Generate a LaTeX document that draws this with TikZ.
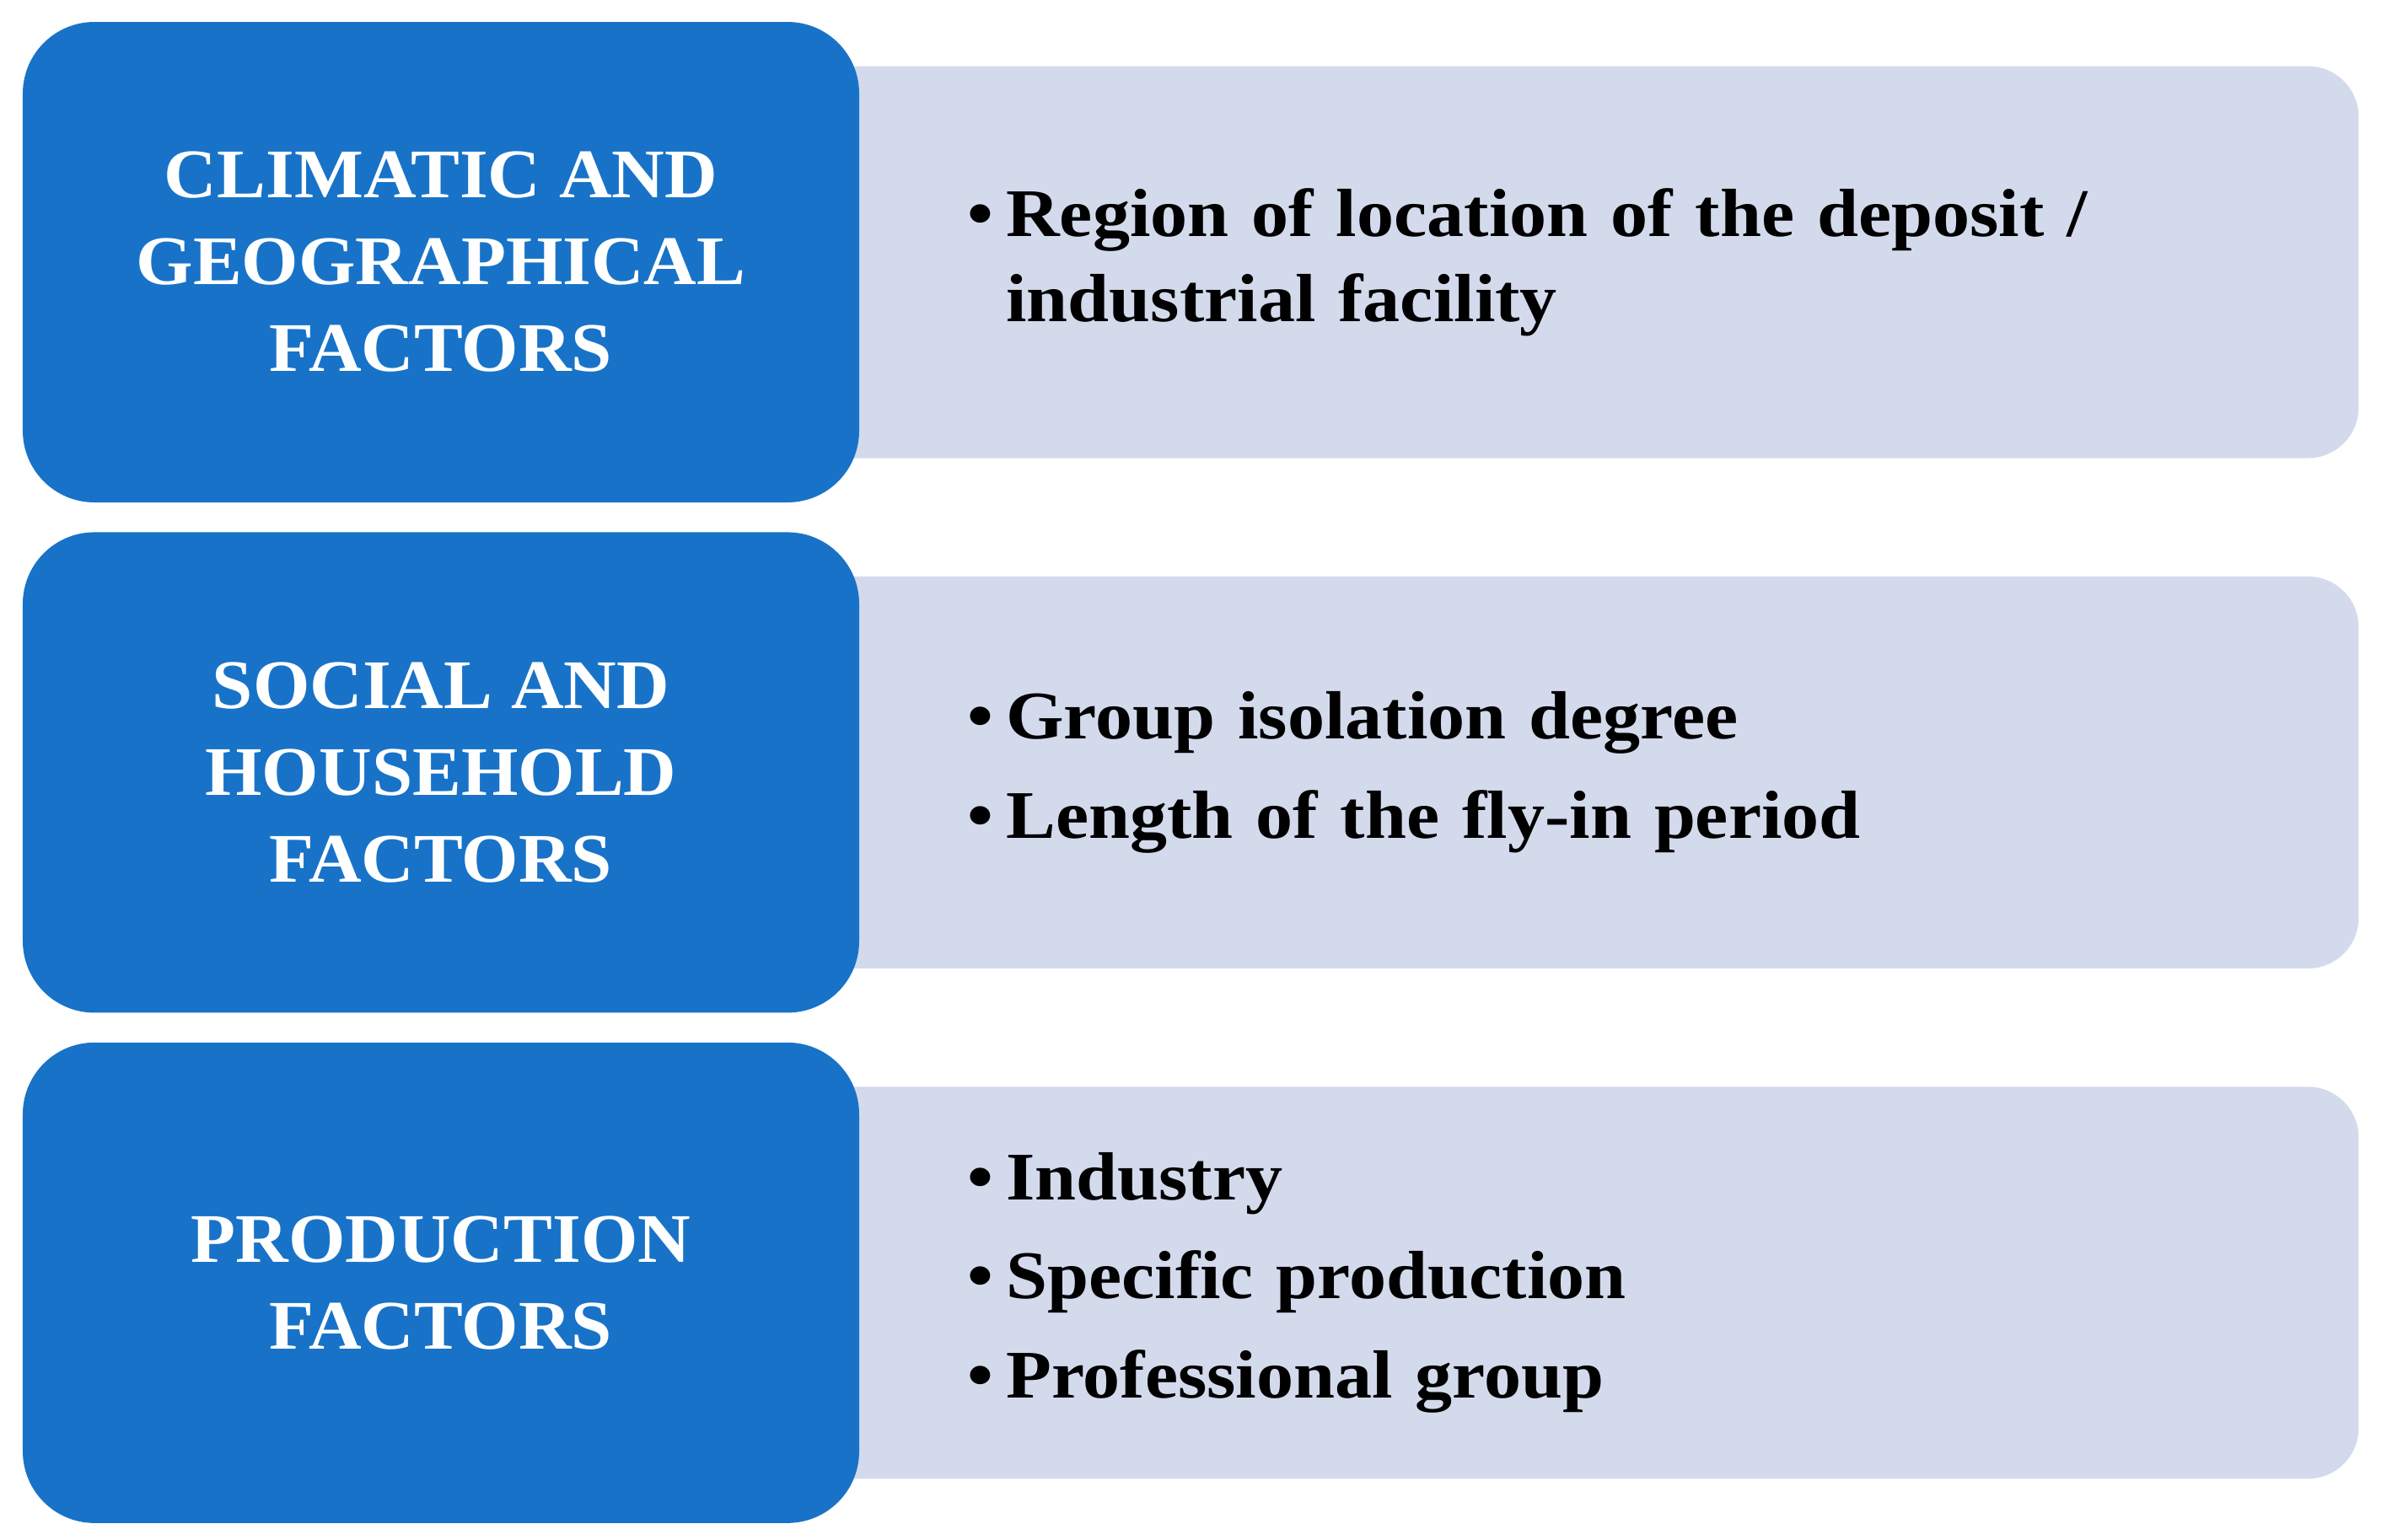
\documentclass[tikz,border=0pt]{standalone}
\usepackage{fontspec}
\setmainfont{Liberation Serif}[FakeStretch=1.05]
\newfontfamily\listfont{Liberation Serif}[FakeStretch=1.09]
\usetikzlibrary{positioning, backgrounds}
\definecolor{factblue}{RGB}{24,115,200}
\definecolor{itemgray}{RGB}{211,218,236}
\tikzset{
  factor/.style={
    rectangle,
    rounded corners=0.85cm,
    fill=factblue,
    text=white,
    align=center,
    minimum width=9.92cm,
    minimum height=5.70cm,
    inner sep=0pt,
    font=\bfseries\fontsize{23.5pt}{29.3pt}\selectfont
  },
  items/.style={
    rectangle,
    rounded corners=0.6cm,
    fill=itemgray,
    align=left,
    text width=14.04cm,
    minimum height=4.65cm,
    inner xsep=2.46cm,
    inner ysep=0pt,
    font=\listfont\bfseries\fontsize{23pt}{28.7pt}\selectfont
  }
}
\newcommand{\itembullet}{\makebox[0.46cm][l]{\textbullet}}

\begin{document}
\begin{tikzpicture}[node distance=0.34cm]
  \useasboundingbox (0,0) rectangle (28.37,-18.26);

  \node[factor] (climate) at (5.23,-3.11) {CLIMATIC AND\\GEOGRAPHICAL\\FACTORS};
  \node[factor, below=of climate] (social) {SOCIAL AND\\HOUSEHOLD\\FACTORS};
  \node[factor, below=of social] (production) {PRODUCTION\\FACTORS};

  \begin{scope}[on background layer]
    \node[items, anchor=west] (climatelist) at ([xshift=-1.19cm]climate.east)
      {\itembullet Region of location of the deposit /\\
       \hspace*{0.46cm}industrial facility};
    \node[items, anchor=west] (sociallist) at ([xshift=-1.19cm]social.east)
      {\itembullet Group isolation degree\\[0.17cm]
       \itembullet Length of the fly-in period};
    \node[items, anchor=west] (productionlist) at ([xshift=-1.19cm]production.east)
      {\itembullet Industry\\[0.17cm]
       \itembullet Specific production\\[0.17cm]
       \itembullet Professional group};
  \end{scope}
\end{tikzpicture}
\end{document}
